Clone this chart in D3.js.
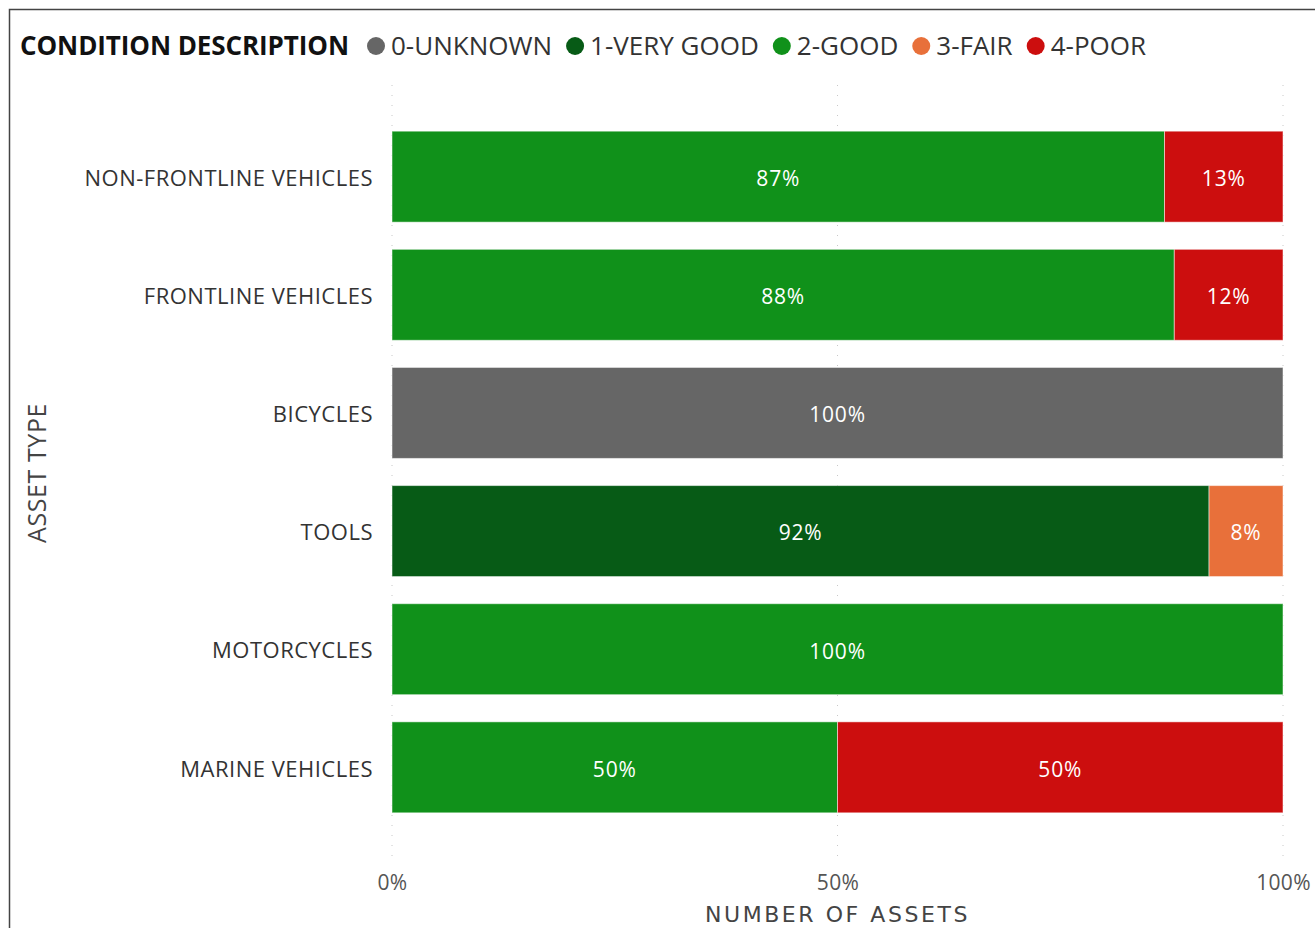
<!DOCTYPE html>
<html><head><meta charset="utf-8">
<script src="https://cdn.jsdelivr.net/npm/d3@7"></script>
<style>body{margin:0;background:#fff;} svg{display:block;}</style>
</head><body>
<svg id="chart" width="1315" height="928"></svg>
<script>
const categories = ["NON-FRONTLINE VEHICLES","FRONTLINE VEHICLES","BICYCLES","TOOLS","MOTORCYCLES","MARINE VEHICLES"];
const seriesNames = ["0-UNKNOWN","1-VERY GOOD","2-GOOD","3-FAIR","4-POOR"];
const seriesColors = ["#666666","#075B16","#10911A","#E8703A","#CC0E0E"];
const unknown  = [0,0,100,0,0,0];
const veryGood = [0,0,0,91.7,0,0];
const good     = [86.7,87.8,0,0,100,50];
const fair     = [0,0,0,8.3,0,0];
const poor     = [13.3,12.2,0,0,0,50];
const xTicks = [0,50,100];

const seriesValues = [unknown, veryGood, good, fair, poor];
const rows = categories.map((c,i)=>{const o={cat:c}; seriesNames.forEach((s,j)=>o[s]=seriesValues[j][i]); return o;});
const stacked = d3.stack().keys(seriesNames)(rows);

const svg = d3.select("#chart");
const font = "'Open Sans', 'Noto Sans', sans-serif";

function fit(sel, target){
  const n = sel.node();
  const len = n.getComputedTextLength();
  const chars = n.textContent.length;
  sel.style("letter-spacing", ((target-len)/chars)+"px");
}

// frame
svg.append("path").attr("d","M9.5,928 V9.5 H1315").attr("fill","none").attr("stroke","#444").attr("stroke-width",1.5);

const x = d3.scaleLinear().domain([0,100]).range([392,1283]);
const y = d3.scaleBand().domain(categories).range([117,827]).paddingInner(0.23).paddingOuter(0.12);

// gridlines
svg.append("g").selectAll("line").data(xTicks).join("line")
  .attr("x1",d=>x(d)).attr("x2",d=>x(d)).attr("y1",85).attr("y2",862)
  .attr("stroke","#c8c8c8").attr("stroke-width",1).attr("stroke-dasharray","1,9");

// bars
const color = d3.scaleOrdinal().domain(seriesNames).range(seriesColors);
const g = svg.append("g");
stacked.forEach(layer=>{
  g.append("g").attr("fill",color(layer.key)).selectAll("rect").data(layer.filter(d=>d[1]-d[0]>0)).join("rect")
    .attr("x",d=>x(d[0])).attr("width",d=>x(d[1])-x(d[0]))
    .attr("y",d=>y(d.data.cat)).attr("height",y.bandwidth())
    .attr("stroke","rgba(255,255,255,0.5)").attr("stroke-width",1);
  g.append("g").selectAll("text").data(layer.filter(d=>d[1]-d[0]>0)).join("text")
    .attr("x",d=>(x(d[0])+x(d[1]))/2).attr("y",d=>y(d.data.cat)+y.bandwidth()/2+2)
    .attr("dy","0.35em").attr("text-anchor","middle").attr("fill","#fff")
    .style("font-family",font).style("font-size","21px").style("letter-spacing","0.8px")
    .text(d=>Math.round(d[1]-d[0])+"%");
});

// y axis labels
const yAxis = d3.axisLeft(y).tickSize(0).tickPadding(19);
const ya = svg.append("g").attr("transform","translate(392,0)").call(yAxis);
ya.select(".domain").remove();
ya.selectAll("text").style("font-family",font).style("font-size","22px").style("letter-spacing","0.5px").attr("fill","#333").attr("dy","0.42em");

// x axis
const xAxis = d3.axisBottom(x).tickValues(xTicks).tickSize(0).tickPadding(0).tickFormat(d=>d+"%");
const xa = svg.append("g").attr("transform","translate(0,875)").call(xAxis);
xa.select(".domain").remove();
xa.selectAll("text").style("font-family",font).style("font-size","21px").style("letter-spacing","0.3px").attr("fill","#555");

// axis titles
const xt = svg.append("text").attr("x",x(50)).attr("y",922).attr("text-anchor","middle")
  .style("font-family","'DejaVu Sans',sans-serif").style("font-size","22px").attr("fill","#444")
  .text("NUMBER OF ASSETS");
fit(xt, 265);
const yt = svg.append("text").attr("transform","translate(46,473) rotate(-90)").attr("text-anchor","middle")
  .style("font-family",font).style("font-size","25px").attr("fill","#444")
  .text("ASSET TYPE");
fit(yt, 140);

// legend
const leg = svg.append("g");
const title = leg.append("text").attr("x",20).attr("y",55)
  .style("font-family",font).style("font-size","26px").style("font-weight","bold").attr("fill","#111")
  .text("CONDITION DESCRIPTION");
fit(title, 329);
let lx = 349 + 27;
seriesNames.forEach((s,i)=>{
  leg.append("circle").attr("cx",lx).attr("cy",46).attr("r",9).attr("fill",seriesColors[i]);
  const t = leg.append("text").attr("x",lx+15).attr("y",55)
    .style("font-family",font).style("font-size","26px").attr("fill","#333").text(s);
  lx += 15 + t.node().getComputedTextLength() + 23;
});
</script>
</body></html>
